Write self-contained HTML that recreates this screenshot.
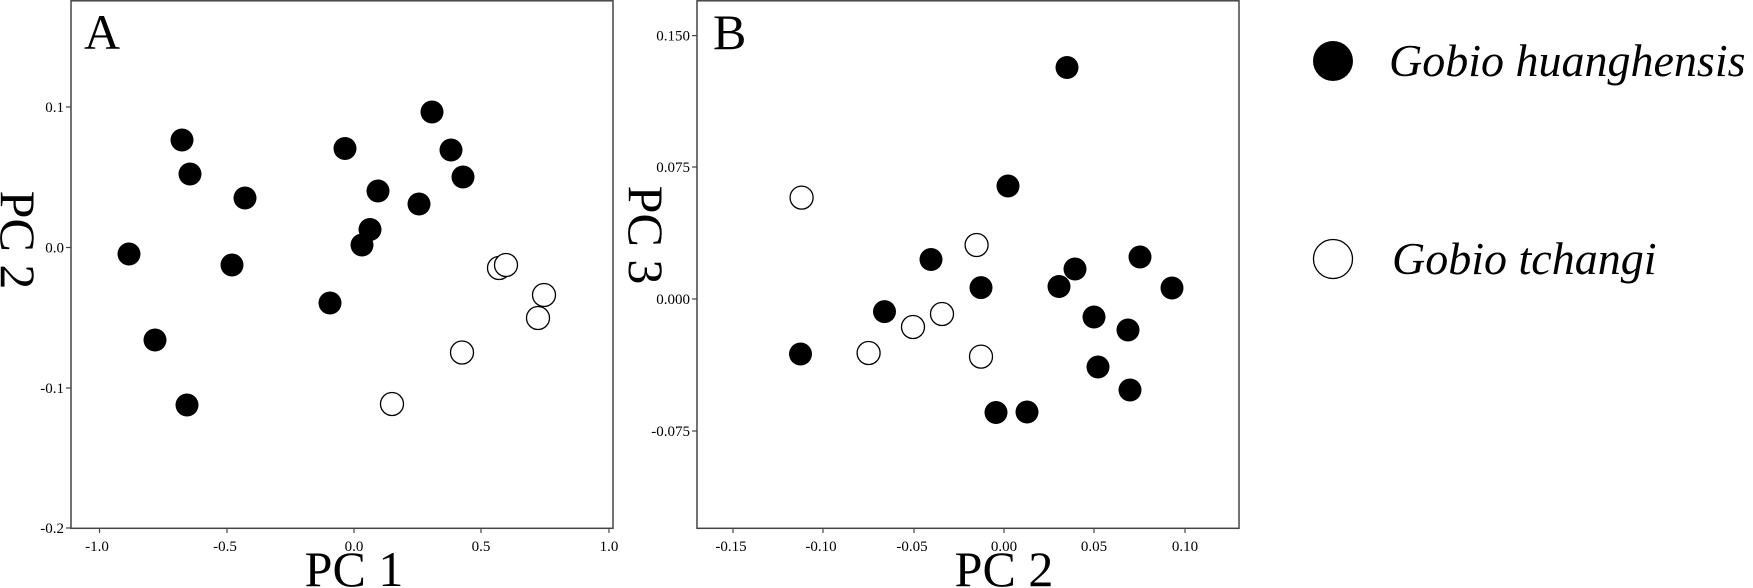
<!DOCTYPE html>
<html><head><meta charset="utf-8"><style>
html,body{margin:0;padding:0;background:#fff;}
svg{display:block;font-family:"Liberation Serif",serif;}
</style></head><body>
<svg width="1753" height="588" viewBox="0 0 1753 588" xmlns="http://www.w3.org/2000/svg">
<g stroke="#444" stroke-width="1.5" fill="none">
<rect x="71" y="0.8" width="542" height="527.5"/>
<rect x="697" y="0.8" width="542" height="527.5"/>
</g>
<g stroke="#444" stroke-width="1.2">
<line x1="66" y1="107" x2="71" y2="107"/><line x1="66" y1="247.5" x2="71" y2="247.5"/><line x1="66" y1="388" x2="71" y2="388"/><line x1="66" y1="528" x2="71" y2="528"/>
<line x1="99.5" y1="528" x2="99.5" y2="533"/><line x1="227" y1="528" x2="227" y2="533"/><line x1="354" y1="528" x2="354" y2="533"/><line x1="481" y1="528" x2="481" y2="533"/><line x1="609" y1="528" x2="609" y2="533"/>
<line x1="692" y1="35.6" x2="697" y2="35.6"/><line x1="692" y1="167" x2="697" y2="167"/><line x1="692" y1="299" x2="697" y2="299"/><line x1="692" y1="431" x2="697" y2="431"/>
<line x1="733" y1="528" x2="733" y2="533"/><line x1="823" y1="528" x2="823" y2="533"/><line x1="914" y1="528" x2="914" y2="533"/><line x1="1004" y1="528" x2="1004" y2="533"/><line x1="1094" y1="528" x2="1094" y2="533"/><line x1="1185" y1="528" x2="1185" y2="533"/>
</g>
<g font-size="15" fill="#000" text-anchor="end">
<text x="64" y="112">0.1</text><text x="64" y="252.5">0.0</text><text x="64" y="393">-0.1</text><text x="64" y="533">-0.2</text>
<text x="690" y="40.6">0.150</text><text x="690" y="172">0.075</text><text x="690" y="304">0.000</text><text x="690" y="436">-0.075</text>
</g>
<g font-size="15" fill="#000" text-anchor="middle">
<text x="97" y="551">-1.0</text><text x="225" y="551">-0.5</text><text x="354" y="551">0.0</text><text x="481" y="551">0.5</text><text x="609" y="551">1.0</text>
<text x="731" y="551">-0.15</text><text x="821" y="551">-0.10</text><text x="912" y="551">-0.05</text><text x="1004" y="551">0.00</text><text x="1094" y="551">0.05</text><text x="1185" y="551">0.10</text>
</g>
<g font-size="50" fill="#000">
<text x="84" y="49">A</text><text x="713" y="49">B</text>
<text x="354" y="586" text-anchor="middle">PC 1</text>
<text x="1004" y="586" text-anchor="middle">PC 2</text>
<text transform="translate(1,240) rotate(90)" text-anchor="middle">PC 2</text>
<text transform="translate(629,235) rotate(90)" text-anchor="middle">PC 3</text>
</g>
<g fill="#000">
<circle cx="182" cy="140" r="11.5"/><circle cx="190" cy="174" r="11.5"/><circle cx="245" cy="198" r="11.5"/><circle cx="129" cy="254" r="11.5"/><circle cx="232" cy="265" r="11.5"/><circle cx="155" cy="340" r="11.5"/><circle cx="187" cy="405" r="11.5"/><circle cx="345" cy="148.5" r="11.5"/><circle cx="378" cy="191" r="11.5"/><circle cx="370" cy="229.5" r="11.5"/><circle cx="362" cy="245" r="11.5"/><circle cx="330" cy="303" r="11.5"/><circle cx="432" cy="112" r="11.5"/><circle cx="451" cy="150" r="11.5"/><circle cx="463" cy="177" r="11.5"/><circle cx="419" cy="204" r="11.5"/>
<circle cx="1067" cy="67.5" r="11.5"/><circle cx="1008" cy="186" r="11.5"/><circle cx="931" cy="259.5" r="11.5"/><circle cx="981" cy="287.6" r="11.5"/><circle cx="1059" cy="286.5" r="11.5"/><circle cx="1075" cy="269" r="11.5"/><circle cx="884.5" cy="311.6" r="11.5"/><circle cx="800.5" cy="354" r="11.5"/><circle cx="1094" cy="317" r="11.5"/><circle cx="1098" cy="367" r="11.5"/><circle cx="996" cy="412.5" r="11.5"/><circle cx="1027" cy="412" r="11.5"/><circle cx="1140" cy="257" r="11.5"/><circle cx="1172" cy="288" r="11.5"/><circle cx="1128" cy="330" r="11.5"/><circle cx="1130" cy="390" r="11.5"/>
<circle cx="1333" cy="61" r="20"/>
</g>
<g fill="#fff" stroke="#000" stroke-width="1.3">
<circle cx="499" cy="268" r="11.5"/><circle cx="506" cy="265" r="11.5"/><circle cx="544" cy="295" r="11.5"/><circle cx="538" cy="318" r="11.5"/><circle cx="462" cy="352.5" r="11.5"/><circle cx="392" cy="404" r="11.5"/>
<circle cx="801.6" cy="197.6" r="11.5"/><circle cx="976.6" cy="245" r="11.5"/><circle cx="942" cy="314" r="11.5"/><circle cx="913" cy="327" r="11.5"/><circle cx="868.6" cy="353" r="11.5"/><circle cx="981" cy="356.6" r="11.5"/>
<circle cx="1333" cy="259" r="19.5"/>
</g>
<g font-size="46" font-style="italic" fill="#000">
<text x="1389" y="76">Gobio huanghensis</text>
<text x="1392" y="274">Gobio tchangi</text>
</g>
</svg>
</body></html>
